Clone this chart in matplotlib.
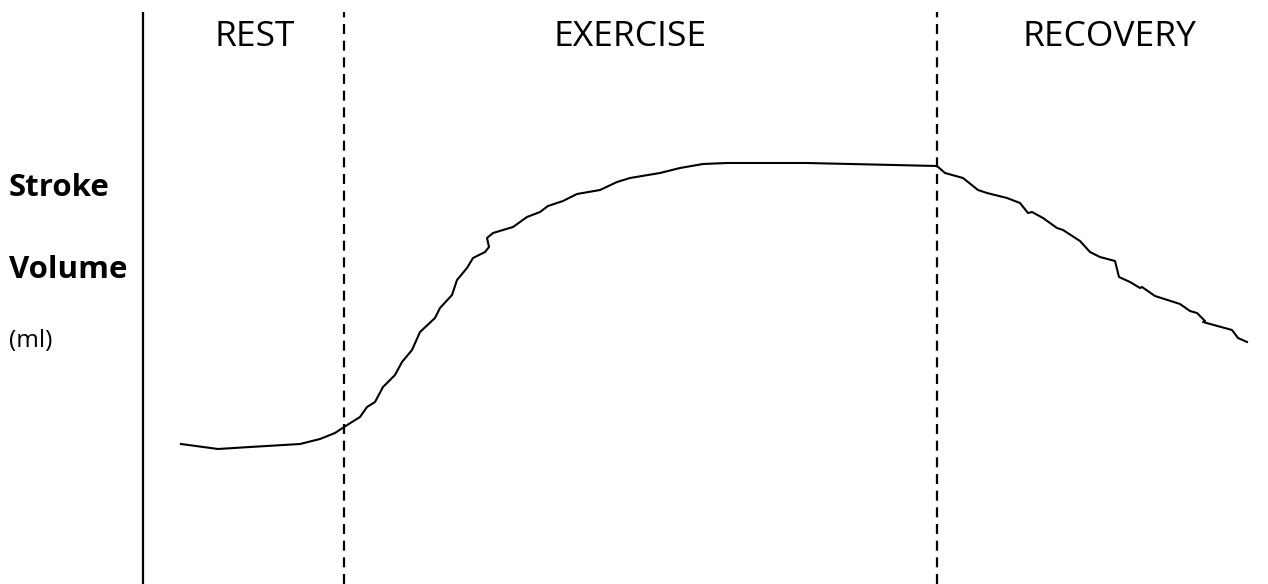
import matplotlib
matplotlib.use("Agg")
import matplotlib.pyplot as plt

# ---- data (arbitrary units) ----
phase_labels = ["REST", "EXERCISE", "RECOVERY"]
phase_label_x = [255, 630, 1109]
phase_bounds = [344, 937]

time = [181, 218, 250, 300, 320, 335, 344, 360, 367, 375, 383, 395, 402, 412,
        420, 435, 440, 452, 457, 467, 473, 485, 489, 487, 493, 513, 527, 540,
        548, 563, 577, 600, 617, 630, 660, 680, 703, 727, 807, 937, 945, 963,
        978, 987, 1007, 1020, 1028, 1032, 1043, 1057, 1063, 1080, 1090, 1100,
        1115, 1119, 1130, 1140, 1142, 1155, 1180, 1190, 1197, 1205, 1203,
        1232, 1238, 1247]
stroke_volume = [140, 135, 137, 140, 145, 151, 157, 167, 177, 182, 197, 209,
                 222, 234, 252, 266, 276, 289, 304, 316, 326, 332, 337, 346,
                 351, 357, 367, 372, 378, 383, 390, 394, 402, 406, 411, 416,
                 420, 421, 421, 418, 411, 406, 394, 391, 386, 381, 371, 372,
                 366, 356, 354, 343, 332, 327, 323, 307, 302, 296, 297, 288,
                 280, 273, 271, 263, 262, 254, 246, 242]

y_labels = ["Stroke", "Volume", "(ml)"]

# ---- figure ----
fig = plt.figure(figsize=(12.68, 5.84), dpi=100)
ax = fig.add_axes([0, 0, 1, 1])
ax.set_xlim(0, 1268)
ax.set_ylim(0, 584)
ax.axis("off")

fam = ["Open Sans", "DejaVu Sans"]

# vertical axis line
ax.plot([143, 143], [0, 572], color="black", lw=1.6, solid_capstyle="butt")

# phase boundaries
for b in phase_bounds:
    ax.plot([b, b], [0, 572], color="black", lw=1.6, dashes=(4.5, 3))

# curve
ax.plot(time, stroke_volume, color="black", lw=1.5, solid_joinstyle="round")

# phase labels
for lab, x in zip(phase_labels, phase_label_x):
    ax.text(x, 547, lab, ha="center", va="center", fontsize=25.5, family=fam)

# y labels
ax.text(9, 396, y_labels[0], ha="left", va="center", fontsize=22.5,
        fontweight="bold", family=fam)
ax.text(9, 314, y_labels[1], ha="left", va="center", fontsize=22.5,
        fontweight="bold", family=fam)
ax.text(9, 243, y_labels[2], ha="left", va="center", fontsize=17.5, family=fam)

fig.savefig("out.png", dpi=100, facecolor="white")
